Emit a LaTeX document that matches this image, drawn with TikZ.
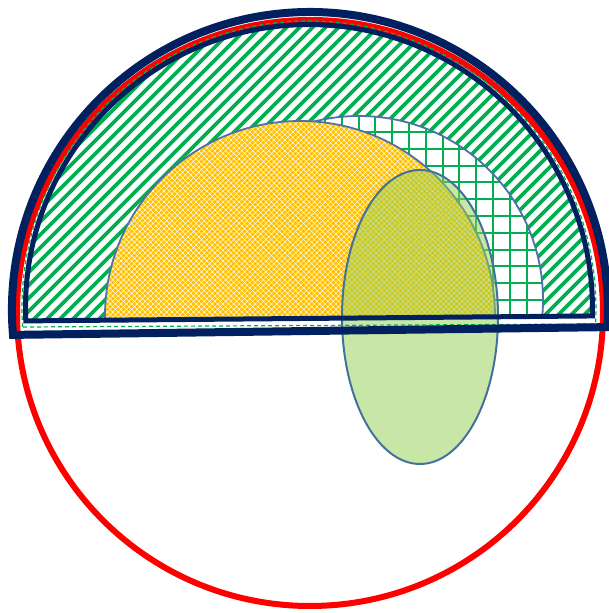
\documentclass[tikz,border=0pt]{standalone}
\usetikzlibrary{patterns.meta}
\definecolor{navy}{HTML}{002060}
\definecolor{hgreen}{HTML}{00B050}
\definecolor{gold}{HTML}{FFC000}
\definecolor{lgreen}{HTML}{92D050}
\definecolor{slate}{HTML}{41719C}
\definecolor{edgeblue}{HTML}{4F71A6}
\tikzset{
  hatchline/.style={hgreen, line width=3.8pt},
  gridline/.style={hgreen, line width=2pt},
  shapeedge/.style={edgeblue, line width=1.8pt},
}
\begin{document}
\begin{tikzpicture}[x=1pt,y=1pt]
\useasboundingbox (0,0) rectangle (609,613);
% red circle
\draw[red, line width=6pt] (310,300) circle[radius=293];
% inner half disc content
\begin{scope}
  \clip (25.8,292.1) arc[start angle=182.6, end angle=-1.6, radius=283.5] -- cycle;
  \foreach \c in {-650,-637,...,650} \draw[hatchline] (-20,{-20+\c}) -- (640,{640+\c});
  % grid region
  \fill[white] (359,313) circle[radius=184];
  \begin{scope}
    \clip (359,313) circle[radius=184];
    \foreach \k in {-2,...,22} \draw[gridline] ({526.5-16.8*\k},0) -- ({526.5-16.8*\k},613);
    \foreach \k in {-13,...,13} \draw[gridline] (0,{313+16.8*\k}) -- (609,{313+16.8*\k});
  \end{scope}
  \draw[shapeedge] (359,313) circle[radius=184];
  % orange region
  \fill[gold] (300,297) circle[radius=195];
  \fill[pattern={Lines[angle=45,distance=3.8pt,line width=0.5pt]}, pattern color=white] (300,297) circle[radius=195];
  \fill[pattern={Lines[angle=-45,distance=3.8pt,line width=0.5pt]}, pattern color=white] (300,297) circle[radius=195];
  \draw[shapeedge] (300,297) circle[radius=195];
\end{scope}
% ellipse
\draw[slate, line width=2pt, fill=lgreen, fill opacity=0.5] (420,296) ellipse[x radius=78, y radius=147];
% dashed outline
\draw[hgreen, line width=1.2pt, dash pattern=on 4pt off 3pt] (22.6,286) arc[start angle=183.8, end angle=-3.2, radius=287] -- cycle;
% navy outlines
\draw[navy, line width=5pt] (25.8,292.1) arc[start angle=182.6, end angle=-1.6, radius=283.5] -- cycle;
\draw[navy, line width=8pt] (13,278.1) arc[start angle=184.8, end angle=-3.3, radius=298] -- cycle;
\end{tikzpicture}
\end{document}
